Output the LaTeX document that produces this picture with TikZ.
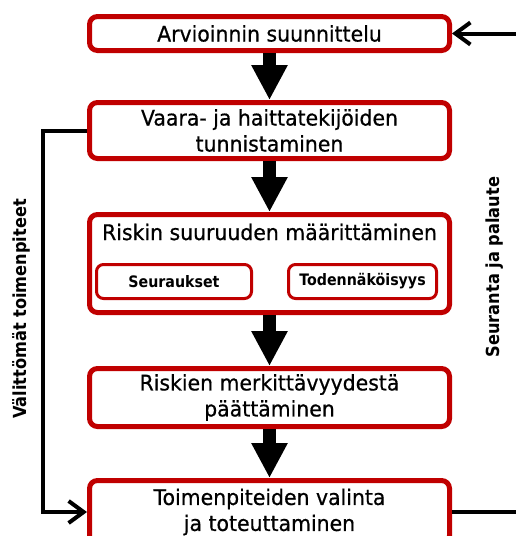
\documentclass[tikz,border=0pt]{standalone}
\usepackage{fontspec}
\setmainfont{DejaVu Sans}
\newfontfamily\stagefont[FakeStretch=0.95,FakeBold=0.6]{DejaVu Sans}
\newfontfamily\labelfont[FakeStretch=0.9,BoldFont={DejaVu Sans Bold}]{DejaVu Sans}
\usetikzlibrary{arrows.meta}
\definecolor{boxred}{RGB}{192,0,0}
\tikzset{
  stage/.style={draw=boxred, line width=5pt, rounded corners=8pt, fill=white,
    minimum width=360pt, inner sep=0pt, align=center,
    font=\stagefont\fontsize{21.5}{26}\selectfont},
  factor/.style={draw=boxred, line width=3pt, rounded corners=7pt, fill=white,
    minimum height=34pt, inner sep=0pt,
    font=\labelfont\fontsize{15.8}{18}\selectfont\bfseries},
  flow/.style={line width=13pt, -{Triangle[width=34pt,length=35pt]}},
  loop/.style={line width=4pt, -{Straight Barb[length=15pt,width=22pt,line width=4pt]}},
  sidelabel/.style={rotate=90, inner sep=0pt, font=\labelfont\fontsize{18}{21}\selectfont\bfseries}
}
\begin{document}
\begin{tikzpicture}[x=1pt,y=-1pt]
\useasboundingbox (0,0) rectangle (516,536);
\fill[white] (0,0) rectangle (516,536);

% process stages
\node[stage, minimum height=34pt] (plan) at (269.5,33.5) {Arvioinnin suunnittelu};
\node[stage, minimum height=56pt] (ident) at (269.5,130.5) {Vaara- ja haittatekijöiden\\tunnistaminen};
\node[stage, minimum height=98pt] (size) at (269.5,263.5) {};
\node[font=\stagefont\fontsize{21.5}{26}\selectfont, inner sep=0pt] (sizetitle) at (269.5,232) {Riskin suuruuden määrittäminen};
\node[factor, minimum width=155pt] (cons) at (174,281.5) {Seuraukset};
\node[factor, minimum width=148pt] (prob) at (362.5,281.5) {Todennäköisyys};
\node[stage, minimum height=58pt] (sig) at (269.5,397.5) {Riskien merkittävyydestä\\päättäminen};
\node[stage, minimum height=63pt] (act) at (269.5,512) {Toimenpiteiden valinta\\ja toteuttaminen};

% main flow
\draw[flow] (plan.south) -- (ident.north);
\draw[flow] (ident.south) -- (size.north);
\draw[flow] (size.south) -- (sig.north);
\draw[flow] (sig.south) -- (act.north);

% immediate actions loop
\coordinate (lt) at (42.5,130.5);
\coordinate (lb) at (42.5,512);
\draw[loop] (ident.west) -- (lt) -- (lb) -- (act.west);
\node[sidelabel] (imm) at (21,309) {Välittömät toimenpiteet};

% monitoring and feedback loop
\coordinate (rb) at (520,512);
\coordinate (rt) at (520,33.5);
\draw[line width=4pt] (act.east) -- (rb);
\draw[loop] (rt) -- (plan.east);
\node[sidelabel] (fb) at (495,267) {Seuranta ja palaute};
\end{tikzpicture}
\end{document}
